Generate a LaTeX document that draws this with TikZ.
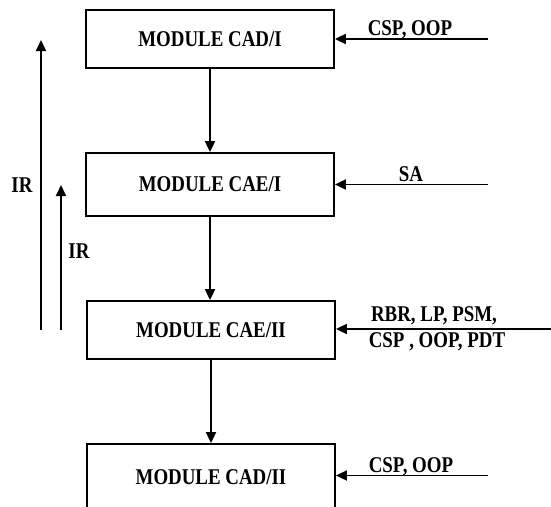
\documentclass[tikz,border=0pt]{standalone}
\usepackage{fontspec}
\setmainfont{Liberation Serif}
\newfontfamily\condserif[FakeStretch=0.84]{Liberation Serif}
\usetikzlibrary{arrows.meta}
\begin{document}
\begin{tikzpicture}[x=1pt,y=-1pt,
  box/.style={draw,line width=1.8pt,minimum width=248pt,inner sep=0pt,font=\condserif\fontsize{22.5}{25}\selectfont\bfseries},
  lbl/.style={inner sep=0pt,font=\condserif\fontsize{22.5}{25}\selectfont\bfseries},
  arr/.style={line width=1.8pt,-{Triangle[length=11pt,width=10pt]}}]
\useasboundingbox (0,0) rectangle (551,506);
\clip (0,0) rectangle (551,506);
% boxes
\node[box,minimum height=58pt] (m1) at (210,39) {MODULE CAD/I};
\node[box,minimum height=63pt] (m2) at (210,184.5) {MODULE CAE/I};
\node[box,minimum height=58pt] (m3) at (211,330) {MODULE CAE/II};
\node[box,minimum height=66pt] (m4) at (211,477) {MODULE CAD/II};
% vertical flow
\draw[arr] (m1.south) -- (m1.south |- m2.north);
\draw[arr] (m2.south) -- (m2.south |- m3.north);
\draw[arr] (m3.south) -- (m3.south |- m4.north);
% right inputs
\coordinate (i1) at (488,39);
\coordinate (i2) at (488,184.5);
\coordinate (i3) at (551,329);
\coordinate (i4) at (488,475.5);
\draw[arr] (i1) -- (i1 -| m1.east);
\draw[arr] (i2) -- (i2 -| m2.east);
\draw[arr] (i3) -- (i3 -| m3.east);
\draw[arr] (i4) -- (i4 -| m4.east);
\node[lbl,anchor=base] (l1) at (410,35) {CSP, OOP};
\node[lbl,anchor=base] (l2) at (411,181) {SA};
\node[lbl,anchor=base] (l3a) at (434,321.5) {RBR, LP, PSM,};
\node[lbl,anchor=base] (l3b) at (437,347.5) {CSP , OOP, PDT};
\node[lbl,anchor=base] (l4) at (411,472) {CSP, OOP};
% left feedback
\coordinate (a1s) at (41,330);
\coordinate (a1e) at (41,40);
\coordinate (a2s) at (61,330);
\coordinate (a2e) at (61,185);
\draw[arr] (a1s) -- (a1e);
\draw[arr] (a2s) -- (a2e);
\node[lbl] (ir1) at (22,185.5) {IR};
\node[lbl] (ir2) at (79,251) {IR};
\end{tikzpicture}
\end{document}
